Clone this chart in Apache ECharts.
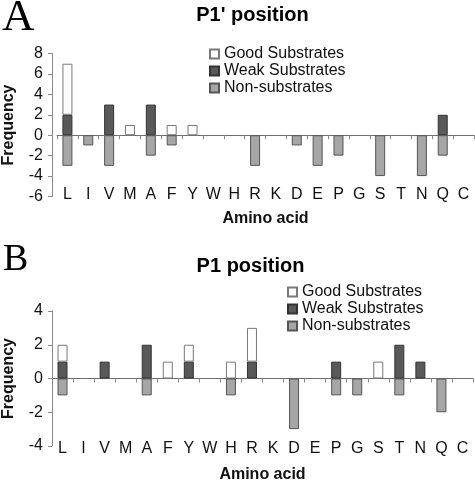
<!DOCTYPE html>
<html>
<head>
<meta charset="utf-8">
<script src="https://cdn.jsdelivr.net/npm/echarts@6/dist/echarts.min.js"></script>
<style>
html,body{margin:0;padding:0;background:#fff;}
#chart{width:475px;height:481px;}
</style>
</head>
<body>
<div id="chart"></div>
<script>
// Categories (amino acids)
const categories = ['L','I','V','M','A','F','Y','W','H','R','K','D','E','P','G','S','T','N','Q','C'];
const seriesNames = ['Good Substrates','Weak Substrates','Non-substrates'];

// Panel A: P1' position
const titleA = "P1' position";
const goodA = [5,0,0,1,0,1,1,0,0,0,0,0,0,0,0,0,0,0,0,0];
const weakA = [2,0,3,0,3,0,0,0,0,0,0,0,0,0,0,0,0,0,2,0];
const nonA  = [-3,-1,-3,0,-2,-1,0,0,0,-3,0,-1,-3,-2,0,-4,0,-4,-2,0];
const yTicksA = {min:-6, max:8, interval:2};

// Panel B: P1 position
const titleB = "P1 position";
const goodB = [1,0,0,0,0,1,1,0,1,2,0,0,0,0,0,1,0,0,0,0];
const weakB = [1,0,1,0,2,0,1,0,0,1,0,0,0,1,0,0,2,1,0,0];
const nonB  = [-1,0,0,0,-1,0,0,0,-1,0,0,-3,0,-1,-1,0,-1,0,-2,0];
const yTicksB = {min:-4, max:4, interval:2};

const FONT = 'Liberation Sans, Arial, sans-serif';
const styles = {
  'Good Substrates': {color:'#fdfdfd', borderColor:'#7a7a7a', borderWidth:1},
  'Weak Substrates': {color:'#595959', borderColor:'#333333', borderWidth:1},
  'Non-substrates':  {color:'#a6a6a6', borderColor:'#555555', borderWidth:1}
};

function nz(arr){ return arr.map(v => v === 0 ? '-' : v); }

function makeSeries(idx, good, weak, non){
  const stack = 's' + idx;
  const mk = (name, data) => ({
    name, type:'bar', stack, xAxisIndex: idx, yAxisIndex: idx,
    data: nz(data), barWidth: 10, itemStyle: styles[name],
    emphasis:{disabled:true}, animation:false
  });
  return [mk('Weak Substrates', weak), mk('Good Substrates', good), mk('Non-substrates', non)];
}

function xAxis(idx, labelMargin, nameGap){
  return {
    type:'category', gridIndex: idx, data: categories, position:'bottom',
    axisLine:{show:true, onZero:true, lineStyle:{color:'#6e6e6e', width:1}},
    axisTick:{show:true, alignWithLabel:false, interval:0, length:4, lineStyle:{color:'#8a8a8a'}},
    axisLabel:{margin: labelMargin, interval:0, fontSize:16, color:'#111', fontFamily:FONT, hideOverlap:false},
    name:'Amino acid', nameLocation:'middle', nameGap: nameGap, nameMoveOverlap:false,
    nameTextStyle:{fontSize:16, fontWeight:'bold', color:'#111', fontFamily:FONT},
    splitLine:{show:false}
  };
}

function yAxis(idx, ticks, offset){
  return {
    type:'value', gridIndex: idx, min: ticks.min, max: ticks.max, interval: ticks.interval,
    offset: offset,
    axisLine:{show:true, onZero:false, lineStyle:{color:'#8a8a8a', width:1}},
    axisTick:{show:true, length:4, lineStyle:{color:'#8a8a8a'}},
    axisLabel:{margin:9, fontSize:16, color:'#111', fontFamily:FONT},
    splitLine:{show:false},
    name:'Frequency', nameLocation:'middle', nameGap: 35, nameMoveOverlap:false,
    nameTextStyle:{fontSize:16, fontWeight:'bold', color:'#111', fontFamily:FONT}
  };
}

function legend(left, top){
  return {
    orient:'vertical', left, top, padding:0, itemWidth:9, itemHeight:9, itemGap:1,
    icon:'rect', selectedMode:false,
    data: seriesNames,
    textStyle:{fontSize:16, lineHeight:16, color:'#111', fontFamily:FONT}
  };
}

const chart = echarts.init(document.getElementById('chart'), null, {renderer:'canvas'});
chart.setOption({
  animation:false,
  backgroundColor:'#fff',
  grid:[
    {left:57, right:1, top:53.5, height:143, outerBoundsMode:'none', containLabel:false},
    {left:52, right:2, top:311, height:135, outerBoundsMode:'none', containLabel:false}
  ],
  xAxis:[ xAxis(0, -10, 14), xAxis(1, -5.5, 20.5) ],
  yAxis:[ yAxis(0, yTicksA, 5), yAxis(1, yTicksB, 0) ],
  legend:[ legend(209, 46), legend(287, 284) ],
  series:[ ...makeSeries(0, goodA, weakA, nonA), ...makeSeries(1, goodB, weakB, nonB) ],
  graphic:[
    {type:'text', x:2, y:18, style:{text:'A', font:'45px "Liberation Serif", "Times New Roman", serif', fill:'#000', align:'left', verticalAlign:'middle'}},
    {type:'text', x:3, y:260, style:{text:'B', font:'38px "Liberation Serif", "Times New Roman", serif', fill:'#000', align:'left', verticalAlign:'middle'}},
    {type:'text', x:252.5, y:15, style:{text:titleA, font:'bold 20px ' + FONT, fill:'#000', align:'center', verticalAlign:'middle'}},
    {type:'text', x:250.5, y:266, style:{text:titleB, font:'bold 20px ' + FONT, fill:'#000', align:'center', verticalAlign:'middle'}}
  ]
});
</script>
</body>
</html>
